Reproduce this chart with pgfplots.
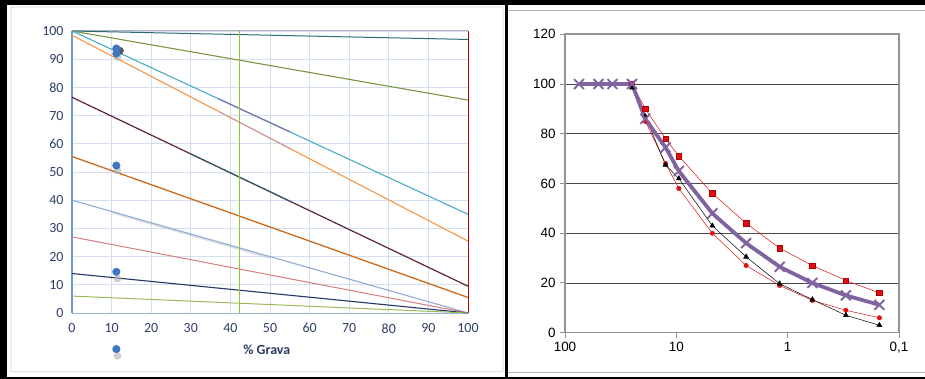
\documentclass[border=0pt]{standalone}
\usepackage{pgfplots}
\pgfplotsset{compat=1.18}
\usepackage{fontspec}
\setmainfont{Liberation Sans}
\newfontfamily\calibri{Carlito}
\definecolor{gridblue}{HTML}{D3DFF0}
\definecolor{labc}{HTML}{2F3E66}
\definecolor{axblue}{HTML}{6D9AD3}
\definecolor{lteal}{HTML}{2B6B78}
\definecolor{lolive}{HTML}{7A9440}
\definecolor{lcyan}{HTML}{4BACC6}
\definecolor{lorange}{HTML}{F79646}
\definecolor{lmaroon}{HTML}{5A2535}
\definecolor{lbrown}{HTML}{CC6A1C}
\definecolor{llblue}{HTML}{90ABD6}
\definecolor{lpink}{HTML}{DA7C7E}
\definecolor{lnavy}{HTML}{1F3864}
\definecolor{lgreen}{HTML}{9BBB59}
\definecolor{vgreen}{HTML}{8CC63F}
\definecolor{lpurple}{HTML}{8064A2}
\definecolor{dotblue}{HTML}{3F76C2}
\definecolor{rred}{HTML}{E01010}
\begin{document}
\begin{tikzpicture}
\useasboundingbox (0bp,0bp) rectangle (925bp,379bp);
\fill[white] (0bp,0bp) rectangle (925bp,379bp);
% ---------------- left chart ----------------
\begin{axis}[
  at={(72bp,66bp)}, anchor=south west,
  scale only axis, width=396bp, height=282bp,
  xmin=0, xmax=100, ymin=0, ymax=100,
  xtick={0,10,...,100}, ytick={0,10,...,100},
  grid=major, major grid style={color=gridblue, line width=0.8pt},
  axis line style={draw=none},
  major tick length=0pt,
  clip=false,
  /pgf/number format/assume math mode=true,
  tick label style={font=\calibri\fontsize{14}{14}\selectfont, color=labc},
  xticklabel style={yshift=-7bp},
  yticklabel style={xshift=-5bp},
]
% frame
\addplot[gray!60, line width=1pt] coordinates {(0,100) (100,100)};
\addplot[axblue!70, line width=0.8pt] coordinates {(0,0) (100,0)};
\addplot[axblue, line width=1.2pt] coordinates {(0,0) (0,100)};
\addplot[red!75!black, line width=0.9pt] coordinates {(100,0) (100,100)};
% lines
\addplot[lteal, line width=1pt] coordinates {(0,100) (100,97)};
\addplot[lolive, line width=1.1pt] coordinates {(0,100) (100,75.5)};
\addplot[lcyan, line width=1.1pt] coordinates {(0,100) (100,35)};
\addplot[lorange, line width=1.1pt] coordinates {(0,98.5) (100,25.5)};
\addplot[lpurple, line width=1.3pt, opacity=0.7] coordinates {(37,75.95) (55,64.25)};
\addplot[lpurple!60, line width=1.3pt, opacity=0.6] coordinates {(37,71.49) (55,58.35)};
\addplot[lmaroon, line width=1.2pt] coordinates {(0,76.5) (100,9.5)};
\addplot[lteal, line width=1.2pt, opacity=0.8] coordinates {(30,56.4) (55,39.65)};
\addplot[lbrown, line width=1.3pt] coordinates {(0,55.5) (100,5.5)};
\addplot[gray!50, line width=1.6pt, opacity=0.5] coordinates {(10,35.6) (50,19.5)};
\addplot[llblue, line width=1.1pt] coordinates {(0,40) (100,0)};
\addplot[lpink, line width=1pt] coordinates {(0,27) (100,0)};
\addplot[lnavy, line width=1.1pt] coordinates {(0,14) (100,0)};
\addplot[lgreen, line width=1pt] coordinates {(0,6) (100,0)};
\addplot[draw=vgreen, line width=1.6pt] coordinates {(42.3,0) (42.3,100)};
% dots (with soft shadows)
\addplot[only marks, mark=*, mark size=3.5bp, gray!60, opacity=0.6] coordinates {(11.5,90.8) (11.5,50.5) (11.5,12.2) (11.5,-15.2)};
\addplot[only marks, mark=*, mark size=3.6bp, black!80, opacity=0.8] coordinates {(12.1,93)};
\addplot[only marks, mark=*, mark size=3.8bp, dotblue] coordinates {(11.2,93.8) (11.2,92) (11.2,52.3) (11.2,14.6) (11.2,-12.8)};
\node[font=\calibri\bfseries\fontsize{14}{14}\selectfont, color=labc] at (axis cs:49.2,-13.2) {\% Grava};
\end{axis}
% ---------------- right chart ----------------
\begin{axis}[
  at={(565bp,46.3bp)}, anchor=south west,
  scale only axis, width=334bp, height=298.4bp,
  xmode=log, x dir=reverse, xmin=0.1, xmax=100,
  ymin=0, ymax=120, ytick={0,20,...,120},
  xtick={100,10,1,0.1}, xticklabels={100,10,1,{0,1}},
  xminorticks=false,
  ymajorgrids, major grid style={color=black!70, line width=0.7pt},
  axis line style={color=gray!85, line width=1.6pt},
  tick style={color=gray!85, line width=1pt},
  tick align=outside, major tick length=5bp,
  xtick pos=bottom, ytick pos=left,
  /pgf/number format/assume math mode=true,
  tick label style={font=\fontsize{13.5}{14}\selectfont, color=black},
  xticklabel style={yshift=-1bp},
  yticklabel style={xshift=-1bp},
  clip=false,
]
\addplot[rred, line width=0.5pt, mark=square*, mark size=2.7bp, mark options={fill=rred, draw=red!70!black}]
 coordinates {(25,100) (19,90) (12.5,78) (9.5,71) (4.75,56) (2.36,44) (1.18,34) (0.6,27) (0.3,21) (0.15,16)};
\addplot[rred, line width=0.5pt, mark=*, mark size=2.2bp, mark options={fill=rred, draw=rred}]
 coordinates {(25,100) (19,85) (12.5,68) (9.5,58) (4.75,40) (2.36,27) (1.18,19) (0.6,13) (0.3,9) (0.15,6)};
\addplot[black, line width=0.5pt, mark=triangle*, mark size=2.9bp, mark options={fill=black}]
 coordinates {(25,98.5) (19,87) (12.5,67.5) (9.5,62) (4.75,43) (2.36,30.5) (1.18,19.7) (0.6,13.3) (0.3,7) (0.15,3)};
\addplot[lpurple, line width=3.8pt, mark=x, mark size=7bp, mark options={line width=1.9pt}]
 coordinates {(75,100) (50,100) (37.5,100) (25,100) (19,86) (12.5,74.5) (9.5,65) (4.75,48) (2.36,36) (1.18,26.5) (0.6,20) (0.3,15) (0.15,11.2)};
\end{axis}
% ---------------- frames ----------------
\draw[gray!35, line width=0.8pt, rounded corners=1bp] (11bp,7.3bp) rectangle (503bp,372bp);
\draw[gray!60, line width=0.8pt] (508bp,369bp) -- (925bp,369bp);
\draw[gray!60, line width=0.8pt] (508bp,6.7bp) -- (925bp,6.7bp);
\fill[black] (0bp,374bp) rectangle (925bp,379bp);
\fill[black] (0bp,0bp) rectangle (7bp,379bp);
\fill[black] (0bp,0bp) rectangle (925bp,2.3bp);
\fill[black] (505bp,0bp) rectangle (508bp,379bp);
\end{tikzpicture}
\end{document}
